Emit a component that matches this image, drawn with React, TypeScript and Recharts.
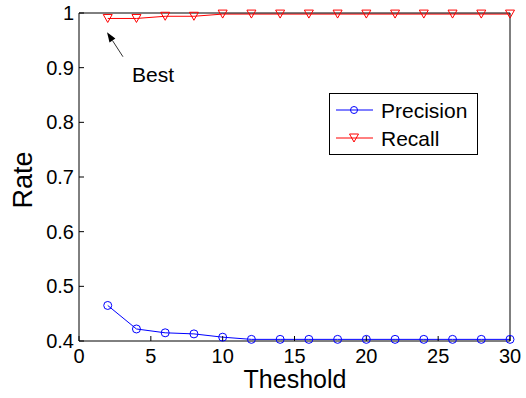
import React from 'react';
import { LineChart, Line, XAxis, YAxis, Legend, ReferenceLine, Label } from 'recharts';

const thresholds = [2, 4, 6, 8, 10, 12, 14, 16, 18, 20, 22, 24, 26, 28, 30];
const precision = [0.465, 0.422, 0.415, 0.413, 0.407, 0.403, 0.403, 0.403, 0.403, 0.403, 0.403, 0.403, 0.403, 0.403, 0.403];
const recall = [0.99, 0.99, 0.994, 0.994, 0.998, 0.998, 0.998, 0.998, 0.998, 0.998, 0.998, 0.998, 0.998, 0.998, 0.998];
const xTicks = [0, 5, 10, 15, 20, 25, 30];
const yTicks = [0.4, 0.5, 0.6, 0.7, 0.8, 0.9, 1];
const seriesNames = ['Precision', 'Recall'];
const seriesColors = ['#0000ff', '#ff0000'];
const annotationText = 'Best';
const arrowTip = { x: 1.95, y: 0.965 };
const arrowTail = { x: 3.06, y: 0.92 };

const data = thresholds.map((t, i) => ({ t, precision: precision[i], recall: recall[i] }));

const FONT = '"Liberation Sans", Arial, Helvetica, sans-serif';

const TriangleDot = (props: any) => {
  const { cx, cy, index } = props;
  if (cx == null || cy == null) return <g key={index} />;
  const w = 4.5;
  const h = 4;
  return (
    <path
      key={index}
      d={`M${cx - w},${cy - h} L${cx + w},${cy - h} L${cx},${cy + h} Z`}
      fill="none"
      stroke={seriesColors[1]}
      strokeWidth={1}
    />
  );
};

const ArrowShape = (props: any) => {
  const { x1, y1, x2, y2 } = props;
  if (x1 == null) return <g />;
  const dx = x1 - x2;
  const dy = y1 - y2;
  const len = Math.sqrt(dx * dx + dy * dy);
  const ux = dx / len;
  const uy = dy / len;
  const hl = 10;
  const hw = 3.5;
  const bx = x1 - ux * hl;
  const by = y1 - uy * hl;
  const px = -uy;
  const py = ux;
  return (
    <g>
      <line x1={x2} y1={y2} x2={bx} y2={by} stroke="#333" strokeWidth={1} />
      <polygon
        points={`${x1},${y1} ${bx + px * hw},${by + py * hw} ${bx - px * hw},${by - py * hw}`}
        fill="#000"
      />
      <text x={x2 + 9} y={y2 + 25} fontFamily={FONT} fontSize={21} fill="#000">
        {annotationText}
      </text>
    </g>
  );
};

const LegendBox = () => (
  <svg width={150} height={63} style={{ display: 'block' }}>
    <rect x={0.5} y={0.5} width={148} height={61} fill="#fff" stroke="#000" strokeWidth={1} />
    <line x1={7} y1={17} x2={44} y2={17} stroke={seriesColors[0]} strokeWidth={1} />
    <circle cx={25} cy={17} r={3.5} fill="none" stroke={seriesColors[0]} strokeWidth={1} />
    <text x={52} y={24.5} fontFamily={FONT} fontSize={21} fill="#000">{seriesNames[0]}</text>
    <line x1={7} y1={45} x2={44} y2={45} stroke={seriesColors[1]} strokeWidth={1} />
    <path d="M20.5,41 L29.5,41 L25,49 Z" fill="none" stroke={seriesColors[1]} strokeWidth={1} />
    <text x={52} y={52.5} fontFamily={FONT} fontSize={21} fill="#000">{seriesNames[1]}</text>
  </svg>
);

const tickStyle = { fontFamily: FONT, fontSize: 20, fill: '#000' };

export default function App() {
  return (
    <div style={{ position: 'absolute', left: 0, top: 0, width: 526, height: 398, background: '#fff' }}>
      <LineChart width={526} height={398} data={data} margin={{ top: 12, right: 15, bottom: 0, left: 0 }}>
        <XAxis
          xAxisId="bottom"
          dataKey="t"
          type="number"
          domain={[0, 30]}
          ticks={xTicks}
          height={57}
          stroke="#000"
          tickSize={-5}
          tickMargin={13}
          tick={tickStyle}
          interval={0}
        >
          <Label
            content={() => (
              <text x={295} y={388} textAnchor="middle" fontFamily={FONT} fontSize={25} fill="#000">
                Theshold
              </text>
            )}
          />
        </XAxis>
        <XAxis
          xAxisId="top"
          orientation="top"
          dataKey="t"
          type="number"
          domain={[0, 30]}
          ticks={xTicks}
          height={1}
          stroke="#000"
          tickSize={-5}
          tick={false}
          interval={0}
        />
        <YAxis
          yAxisId="left"
          type="number"
          domain={[0.4, 1]}
          ticks={yTicks}
          width={79}
          stroke="#000"
          tickSize={-5}
          tickMargin={10}
          tick={tickStyle}
          interval={0}
        >
          <Label
            content={() => (
              <text
                x={32}
                y={180}
                transform="rotate(-90 32 180)"
                textAnchor="middle"
                fontFamily={FONT}
                fontSize={27}
                fill="#000"
              >
                Rate
              </text>
            )}
          />
        </YAxis>
        <YAxis
          yAxisId="right"
          orientation="right"
          type="number"
          domain={[0.4, 1]}
          ticks={yTicks}
          width={1}
          stroke="#000"
          tickSize={-5}
          tick={false}
          interval={0}
        />
        <Line
          xAxisId="bottom"
          yAxisId="left"
          dataKey="precision"
          name={seriesNames[0]}
          stroke={seriesColors[0]}
          strokeWidth={1}
          dot={{ r: 4, stroke: seriesColors[0], fill: 'none', strokeWidth: 1 }}
          activeDot={false}
          isAnimationActive={false}
        />
        <Line
          xAxisId="bottom"
          yAxisId="left"
          dataKey="recall"
          name={seriesNames[1]}
          stroke={seriesColors[1]}
          strokeWidth={1}
          dot={TriangleDot}
          activeDot={false}
          isAnimationActive={false}
        />
        <ReferenceLine
          xAxisId="bottom"
          yAxisId="left"
          segment={[arrowTip, arrowTail]}
          shape={ArrowShape}
          ifOverflow="visible"
        />
        <Legend
          layout="vertical"
          align="center"
          verticalAlign="middle"
          content={() => <LegendBox />}
          wrapperStyle={{ position: 'absolute', left: 329, top: 93, width: 150, height: 63 }}
        />
      </LineChart>
    </div>
  );
}
